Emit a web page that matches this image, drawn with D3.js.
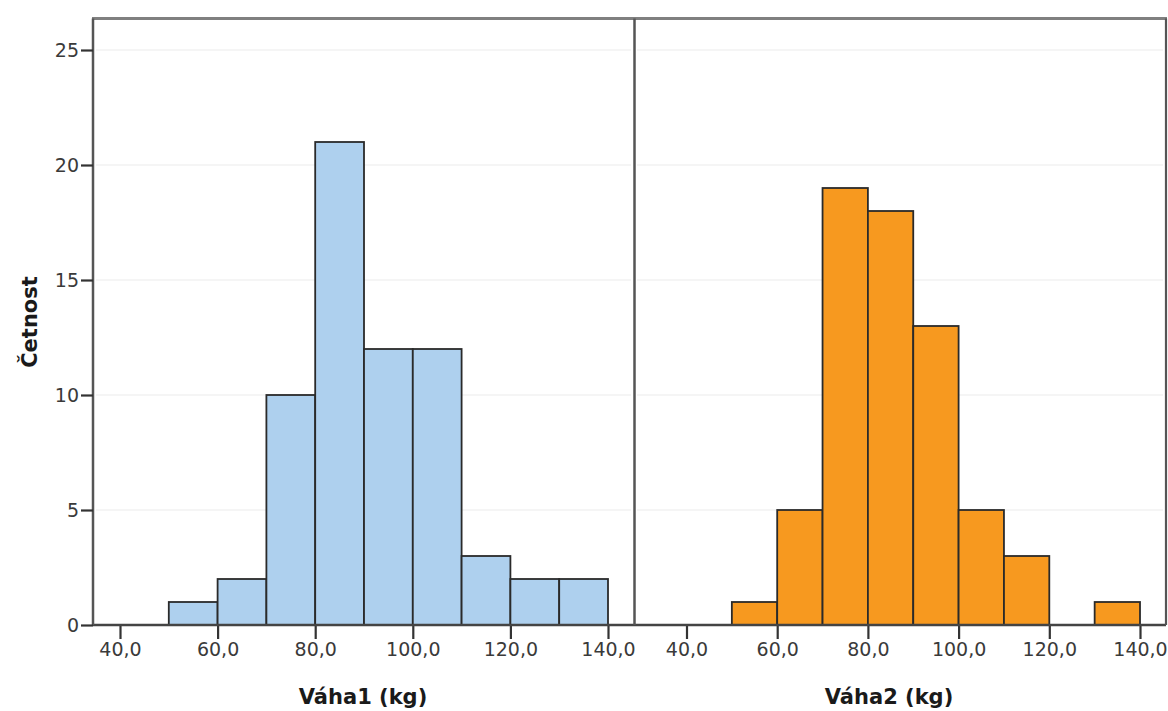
<!DOCTYPE html>
<html lang="cs">
<head>
  <meta charset="UTF-8">
  <title>Histogram Váha</title>
  <script src="https://d3js.org/d3.v7.min.js"></script>
  <style>
    * { margin: 0; padding: 0; }
    body { background: #fff; }
    svg text { font-family: "DejaVu Sans", Verdana, sans-serif; }
    .tick text { font-size: 19px; fill: #3a3a3a; }
    .title { font-size: 21px; font-weight: bold; fill: #1a1a1a; }
  </style>
</head>
<body>
  <svg id="chart" width="1168" height="711"></svg>
  <script>
    // bins (kg): lower edges, width 10
    var binStarts = [50, 60, 70, 80, 90, 100, 110, 120, 130];
    var vaha1 = [1, 2, 10, 21, 12, 12, 3, 2, 2];
    var vaha2 = [1, 5, 19, 18, 13, 5, 3, 0, 1];
    var xTicks = [40, 60, 80, 100, 120, 140];
    var yTicks = [0, 5, 10, 15, 20, 25];

    var svg = d3.select('#chart');
    var top_ = 18.5, base = 625;
    var y = d3.scaleLinear().domain([0, 25]).range([base, 50]);

    var panels = [
      { data: vaha1, fill: '#aed0ee', x0: 93, x1: 634, range: [120, 608], title: 'Váha1 (kg)', tx: 363 },
      { data: vaha2, fill: '#f7991f', x0: 634, x1: 1166, range: [686.5, 1140], title: 'Váha2 (kg)', tx: 889 }
    ];

    panels.forEach(function(p) {
      var g = svg.append('g');
      var x = d3.scaleLinear().domain([40, 140]).range(p.range);
      var bins = binStarts.map(function(b, i) { return { x0: b, x1: b + 10, n: p.data[i] }; })
        .filter(function(d) { return d.n > 0; });

      // gridlines
      g.selectAll('.grid').data(yTicks.slice(1)).enter().append('line')
        .attr('x1', p.x0 + 3).attr('x2', p.x1 - 3)
        .attr('y1', function(d) { return y(d); }).attr('y2', function(d) { return y(d); })
        .attr('stroke', '#ececec').attr('stroke-width', 1.2);

      // bars
      g.selectAll('rect').data(bins).enter().append('rect')
        .attr('x', function(d) { return x(d.x0); })
        .attr('width', function(d) { return x(d.x1) - x(d.x0); })
        .attr('y', function(d) { return y(d.n); })
        .attr('height', function(d) { return base - y(d.n); })
        .attr('fill', p.fill)
        .attr('stroke', '#2a2a2a').attr('stroke-width', 1.8);

      // x axis
      var ax = g.append('g').attr('transform', 'translate(0,' + base + ')')
        .call(d3.axisBottom(x).tickValues(xTicks).tickSize(14).tickPadding(4)
          .tickFormat(function(d) { return d.toFixed(1).replace('.', ','); }));
      ax.select('.domain').remove();
      ax.selectAll('.tick line').attr('stroke', '#333').attr('stroke-width', 2.2);

      g.append('line').attr('x1', p.x0).attr('x2', p.x1)
        .attr('y1', base).attr('y2', base)
        .attr('stroke', '#444').attr('stroke-width', 2.5);

      g.append('text').attr('class', 'title')
        .attr('x', p.tx).attr('y', 704).attr('text-anchor', 'middle')
        .text(p.title);
    });

    // frame
    svg.append('line').attr('x1', 92).attr('x2', 1167).attr('y1', top_).attr('y2', top_)
      .attr('stroke', '#808080').attr('stroke-width', 3);
    svg.append('line').attr('x1', 634.5).attr('x2', 634.5).attr('y1', top_).attr('y2', base)
      .attr('stroke', '#555').attr('stroke-width', 2.5);
    svg.append('line').attr('x1', 1166).attr('x2', 1166).attr('y1', top_).attr('y2', base)
      .attr('stroke', '#555').attr('stroke-width', 2.2);

    // y axis
    var ay = svg.append('g').attr('transform', 'translate(93,0)')
      .call(d3.axisLeft(y).tickValues(yTicks).tickSize(12).tickPadding(2));
    ay.select('.domain').attr('stroke', '#555').attr('stroke-width', 2.5)
      .attr('d', 'M0,' + top_ + 'V' + base);
    ay.selectAll('.tick line').attr('stroke', '#333').attr('stroke-width', 2.2);

    svg.append('text').attr('class', 'title')
      .attr('transform', 'translate(37,322) rotate(-90)')
      .attr('text-anchor', 'middle')
      .text('Četnost');
  </script>
</body>
</html>
